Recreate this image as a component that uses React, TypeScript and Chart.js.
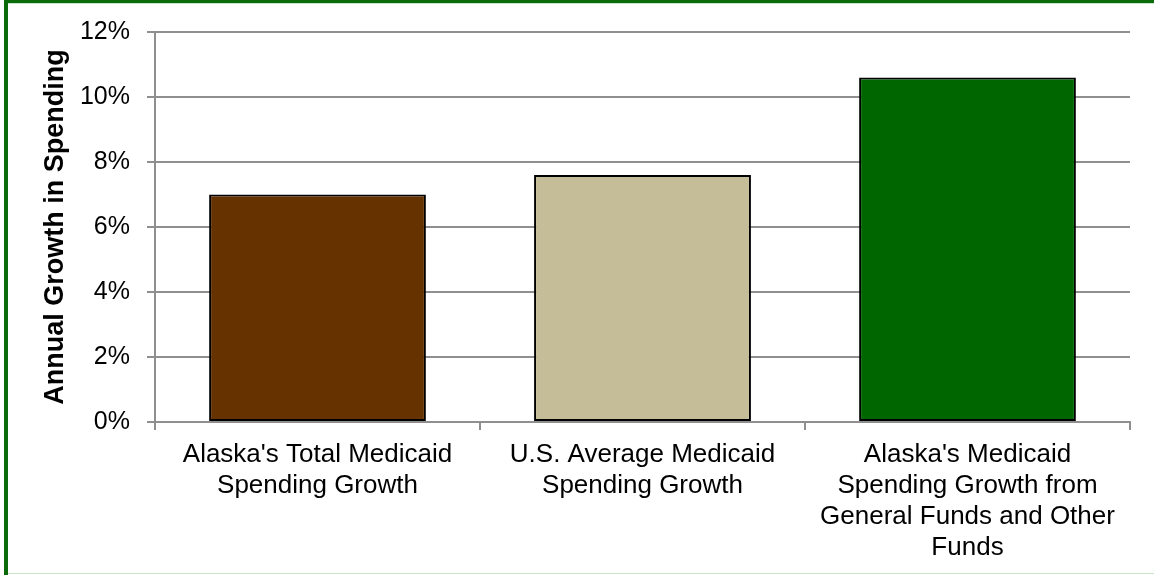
import React, { useEffect, useRef } from "react";
import { Chart, registerables } from "chart.js";

Chart.register(...registerables);

const categories: string[][] = [
  ["Alaska's Total Medicaid", "Spending Growth"],
  ["U.S. Average Medicaid", "Spending Growth"],
  ["Alaska's Medicaid", "Spending Growth from", "General Funds and Other", "Funds"],
];
const values: number[] = [7.0, 7.6, 10.6];
const barColors: string[] = ["#663300", "#c4bd97", "#006600"];
const yTitle = "Annual Growth in Spending";

const FONT = "'Liberation Sans', Arial, sans-serif";
const GRID = "#8f8f8f";

const framePlugin = {
  id: "frame",
  beforeDraw(chart: any) {
    const { ctx, width, height } = chart;
    ctx.save();
    ctx.fillStyle = "#ffffff";
    ctx.fillRect(0, 0, width, height);
    ctx.restore();
  },
  afterDraw(chart: any) {
    const { ctx, width, height } = chart;
    ctx.save();
    ctx.fillStyle = "#0b6b0b";
    ctx.fillRect(4, 0, 4, height);
    ctx.fillRect(4, 0, width - 4, 3);
    ctx.fillStyle = "#c8e6c8";
    ctx.fillRect(8, 573, width - 8, 1);
    ctx.fillRect(8, 3, width - 8, 1);
    ctx.restore();
  },
};

export default function App() {
  const ref = useRef<HTMLCanvasElement | null>(null);
  useEffect(() => {
    if (!ref.current) return;
    const chart = new Chart(ref.current, {
      type: "bar",
      data: {
        labels: categories,
        datasets: [
          {
            data: values,
            backgroundColor: barColors,
            borderColor: "#000000",
            borderWidth: 2,
            borderSkipped: false,
            barPercentage: 0.667,
            categoryPercentage: 1,
          },
        ],
      },
      options: {
        animation: false,
        responsive: false,
        events: [],
        layout: { padding: { top: 31, right: 24, left: 0, bottom: 0 } },
        plugins: {
          legend: { display: false },
          tooltip: { enabled: false },
          title: { display: false },
        },
        scales: {
          x: {
            offset: true,
            grid: {
              display: true,
              drawOnChartArea: false,
              drawTicks: true,
              tickLength: 8,
              color: GRID,
              lineWidth: 2,
              offset: true,
            },
            border: { display: true, color: GRID, width: 2 },
            ticks: {
              color: "#000000",
              padding: 9,
              maxRotation: 0,
              autoSkip: false,
              font: { family: FONT, size: 26, lineHeight: 1.2 },
            },
            afterFit(scale: any) {
              scale.height = 153;
            },
          },
          y: {
            min: 0,
            max: 12,
            ticks: {
              stepSize: 2,
              color: "#000000",
              padding: 17,
              font: { family: FONT, size: 25 },
              callback: (v: any) => `${v}%`,
            },
            grid: { color: GRID, lineWidth: 2, tickLength: 8, drawTicks: true },
            border: { display: true, color: GRID, width: 2 },
            title: {
              display: true,
              text: yTitle,
              color: "#000000",
              padding: { top: 39, bottom: 0 },
              font: { family: FONT, size: 27, weight: "bold" },
            },
            afterFit(scale: any) {
              scale.width = 155;
            },
          },
        },
      },
      plugins: [framePlugin],
    });
    return () => chart.destroy();
  }, []);
  return (
    <div style={{ position: "absolute", left: 0, top: 0, width: 1154, height: 575 }}>
      <canvas ref={ref} width={1154} height={575} style={{ display: "block" }} />
    </div>
  );
}
